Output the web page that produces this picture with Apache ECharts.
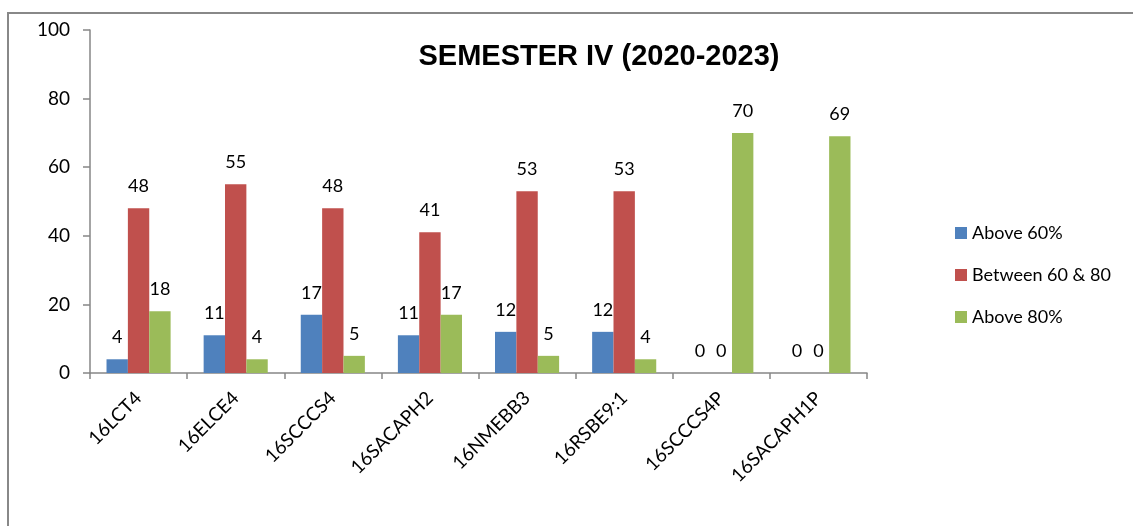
<!DOCTYPE html>
<html>
<head>
<meta charset="utf-8">
<script src="https://cdn.jsdelivr.net/npm/echarts@6/dist/echarts.min.js"></script>
<style>
  html, body { margin: 0; padding: 0; background: #fff; }
  #main { width: 1133px; height: 526px; }
</style>
</head>
<body>
<div id="main"></div>
<script>
// 课程代码
var courses = ['16LCT4', '16ELCE4', '16SCCCS4', '16SACAPH2', '16NMEBB3', '16RSBE9:1', '16SCCCS4P', '16SACAPH1P'];
var seriesNames = ['Above 60%', 'Between 60 & 80', 'Above 80%'];
var above60 = [4, 11, 17, 11, 12, 12, 0, 0];
var between60and80 = [48, 55, 48, 41, 53, 53, 0, 0];
var above80 = [18, 4, 5, 17, 5, 4, 70, 69];
var yTicks = [0, 20, 40, 60, 80, 100];

var colors = ['#4F81BD', '#C0504D', '#9BBB59'];
var font = 'Lato, Calibri, sans-serif';

var myChart = echarts.init(document.getElementById('main'));

function makeSeries(name, data, idx) {
    return {
        name: name,
        type: 'bar',
        data: data,
        barGap: '0%',
        barCategoryGap: '34%',
        itemStyle: { color: colors[idx] },
        label: {
            show: true,
            position: 'top',
            distance: 13,
            color: '#000',
            fontFamily: font,
            fontSize: 18
        }
    };
}

var option = {
    animation: false,
    backgroundColor: '#fff',
    title: {
        text: 'SEMESTER IV (2020-2023)',
        left: 594,
        top: 37,
        textAlign: 'center',
        textStyle: {
            fontFamily: 'Liberation Sans, Arial, sans-serif',
            fontWeight: 'bold',
            fontSize: 29,
            color: '#000'
        }
    },
    legend: {
        orient: 'vertical',
        left: 950,
        top: 219,
        itemWidth: 12,
        itemHeight: 12,
        itemGap: 24,
        icon: 'rect',
        data: seriesNames,
        textStyle: { fontFamily: font, fontSize: 18, color: '#000' }
    },
    grid: { left: 90, right: 266, top: 30, bottom: 153 },
    xAxis: {
        type: 'category',
        data: courses,
        axisLine: { lineStyle: { color: '#868686', width: 1.5 } },
        axisTick: { show: true, length: 6, lineStyle: { color: '#868686', width: 1.5 } },
        axisLabel: {
            rotate: 45,
            color: '#000',
            fontFamily: font,
            fontSize: 19,
            margin: 22
        }
    },
    yAxis: {
        type: 'value',
        min: yTicks[0],
        max: yTicks[yTicks.length - 1],
        interval: 20,
        splitLine: { show: false },
        axisLine: { show: true, lineStyle: { color: '#868686', width: 1.5 } },
        axisTick: { show: true, length: 7, lineStyle: { color: '#868686', width: 1.5 } },
        axisLabel: {
            color: '#000',
            fontFamily: font,
            fontSize: 19,
            margin: 20
        }
    },
    graphic: [{
        type: 'polyline',
        shape: { points: [[8, 526], [8, 13], [1133, 13]] },
        style: { stroke: '#888', lineWidth: 2, fill: null }
    }],
    series: [
        makeSeries(seriesNames[0], above60, 0),
        makeSeries(seriesNames[1], between60and80, 1),
        makeSeries(seriesNames[2], above80, 2)
    ]
};

myChart.setOption(option);
</script>
</body>
</html>
